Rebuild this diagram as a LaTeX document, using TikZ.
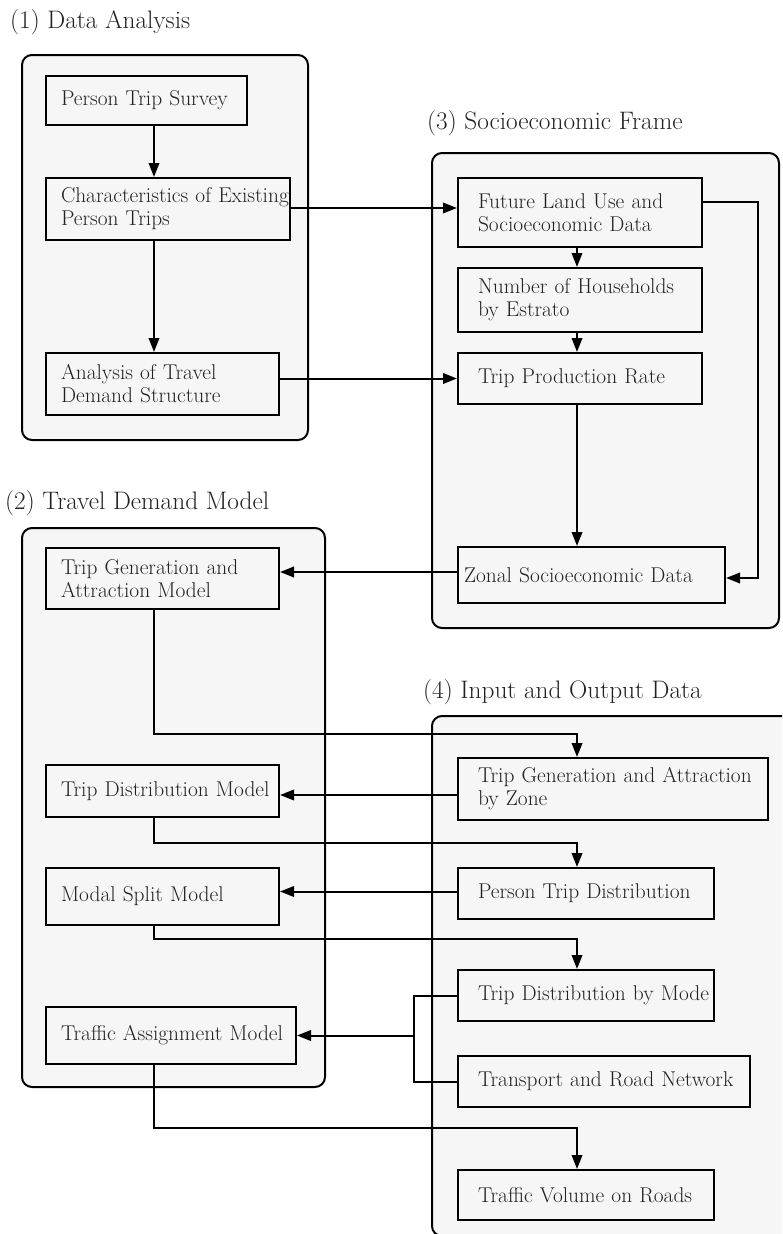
\documentclass[tikz,border=0pt]{standalone}
\usetikzlibrary{arrows.meta}

\definecolor{panelfill}{HTML}{F6F6F6}
\definecolor{ink}{HTML}{222222}

\tikzset{
  panel/.style={draw=black, fill=panelfill, line width=2pt, rounded corners=10pt},
  grouptitle/.style={anchor=west, inner sep=0pt, text=ink,
    font=\fontsize{25.3}{30}\selectfont},
  % flowbox={width}{height}{left padding}
  flowbox/.code n args={3}{%
    \pgfmathsetmacro\boxtw{#1-2*#3}%
    \edef\flowboxopts{\noexpand\pgfkeysalso{draw=black, fill=panelfill,
      line width=2pt, anchor=north west, align=left, text=ink,
      minimum width=#1pt, minimum height=#2pt, inner xsep=#3pt,
      inner ysep=0pt, text width=\boxtw pt,
      font=\noexpand\fontsize{21.4}{23}\noexpand\selectfont}}%
    \flowboxopts},
  link/.style={draw=black, line width=2pt},
  arr/.style={link, -{Triangle[length=14pt,width=10.5pt]}},
}

\begin{document}
\begin{tikzpicture}[x=1pt, y=-1pt]
\useasboundingbox (0,0) rectangle (782,1234);
\clip (0,0) rectangle (782,1234);

% group panels
\draw[panel] (22,55) rectangle (308,440);
\draw[panel] (432,153) rectangle (779,628);
\draw[panel] (22,528) rectangle (325,1087);
\draw[panel] (432,716) rectangle (800,1236);

% group titles
\node[grouptitle] (t1) at (10,22)  {(1) Data Analysis};
\node[grouptitle] (t3) at (427,123) {(3) Socioeconomic Frame};
\node[grouptitle] (t2) at (5,503)  {(2) Travel Demand Model};
\node[grouptitle] (t4) at (423,692) {(4) Input and Output Data};

% (1) data analysis
\node[flowbox={201}{49}{15}] (pts) at (45,75) {\mbox{Person Trip Survey}};
\node[flowbox={244}{62}{15}] (char) at (45,177) {\mbox{Characteristics of Existing}\\\mbox{Person Trips}};
\node[flowbox={233}{62}{15}] (ana) at (45,352) {\mbox{Analysis of Travel}\\\mbox{Demand Structure}};

% (3) socioeconomic frame
\node[flowbox={244}{69}{20}] (flu) at (457,177) {\mbox{Future Land Use and}\\\mbox{Socioeconomic Data}};
\node[flowbox={244}{64}{20}] (nh) at (457,267) {\mbox{Number of Households}\\\mbox{by Estrato}};
\node[flowbox={244}{51}{20}] (tpr) at (457,352) {\mbox{Trip Production Rate}};
\node[flowbox={267}{56}{6}] (zonal) at (457,546) {\mbox{Zonal Socioeconomic Data}};

% (2) travel demand model
\node[flowbox={233}{61}{15}] (tgam) at (45,547) {\mbox{Trip Generation and}\\\mbox{Attraction Model}};
\node[flowbox={233}{52}{15}] (tdm) at (45,764) {\mbox{Trip Distribution Model}};
\node[flowbox={233}{57}{15}] (msm) at (45,867) {\mbox{Modal Split Model}};
\node[flowbox={250}{57}{15}] (tam) at (45,1006) {\mbox{Traffic Assignment Model}};

% (4) input and output data
\node[flowbox={310}{62}{20}] (tgaz) at (457,757) {\mbox{Trip Generation and Attraction}\\\mbox{by Zone}};
\node[flowbox={256}{51}{20}] (ptd) at (457,867) {\mbox{Person Trip Distribution}};
\node[flowbox={256}{51}{20}] (tdbm) at (457,969) {\mbox{Trip Distribution by Mode}};
\node[flowbox={292}{51}{20}] (trn) at (457,1055) {\mbox{Transport and Road Network}};
\node[flowbox={256}{50}{20}] (tvr) at (457,1169) {\mbox{Traffic Volume on Roads}};

% routing columns and rows
\coordinate (colA) at (154,0);
\coordinate (colB) at (577,0);
\coordinate (colR) at (758,0);
\coordinate (colJ) at (414,0);
\coordinate (row1) at (0,734);
\coordinate (row2) at (0,843);
\coordinate (row3) at (0,939);
\coordinate (row4) at (0,1128);

% connectors inside (1)
\draw[arr] (pts.south -| colA) -- (char.north -| colA);
\draw[arr] (char.south -| colA) -- (ana.north -| colA);

% (1) -> (3)
\draw[arr] ([yshift=1pt]char.east) -- ([yshift=1pt]char.east -| flu.west);
\draw[arr] (ana.east |- tpr.west) -- (tpr.west);

% connectors inside (3)
\draw[arr] (flu.south -| colB) -- (nh.north -| colB);
\draw[arr] (nh.south -| colB) -- (tpr.north -| colB);
\draw[arr] (tpr.south -| colB) -- (zonal.north -| colB);
\draw[arr] ([yshift=11pt]flu.east) -| ([yshift=-3pt]colR |- zonal.east) -- ([yshift=-3pt]zonal.east);

% (3) -> (2)
\draw[arr] ([yshift=3pt]zonal.west) -- ([yshift=3pt]zonal.west -| tgam.east);

% (2) <-> (4)
\draw[arr] (tgam.south -| colA) -- (colA |- row1) -- (colB |- row1) -- (tgaz.north -| colB);
\draw[arr] ([yshift=-6pt]tgaz.west) -- ([yshift=-6pt]tgaz.west -| tdm.east);
\draw[arr] (tdm.south -| colA) -- (colA |- row2) -- (colB |- row2) -- (ptd.north -| colB);
\draw[arr] ([yshift=2pt]ptd.west) -- ([yshift=2pt]ptd.west -| msm.east);
\draw[arr] (msm.south -| colA) -- (colA |- row3) -- (colB |- row3) -- (tdbm.north -| colB);
\draw[link] (tdbm.west) -| (colJ |- trn.west) -- (trn.west);
\draw[arr] (colJ |- tam.east) -- (tam.east);
\draw[arr] (tam.south -| colA) -- (colA |- row4) -- (colB |- row4) -- (tvr.north -| colB);

\end{tikzpicture}
\end{document}
